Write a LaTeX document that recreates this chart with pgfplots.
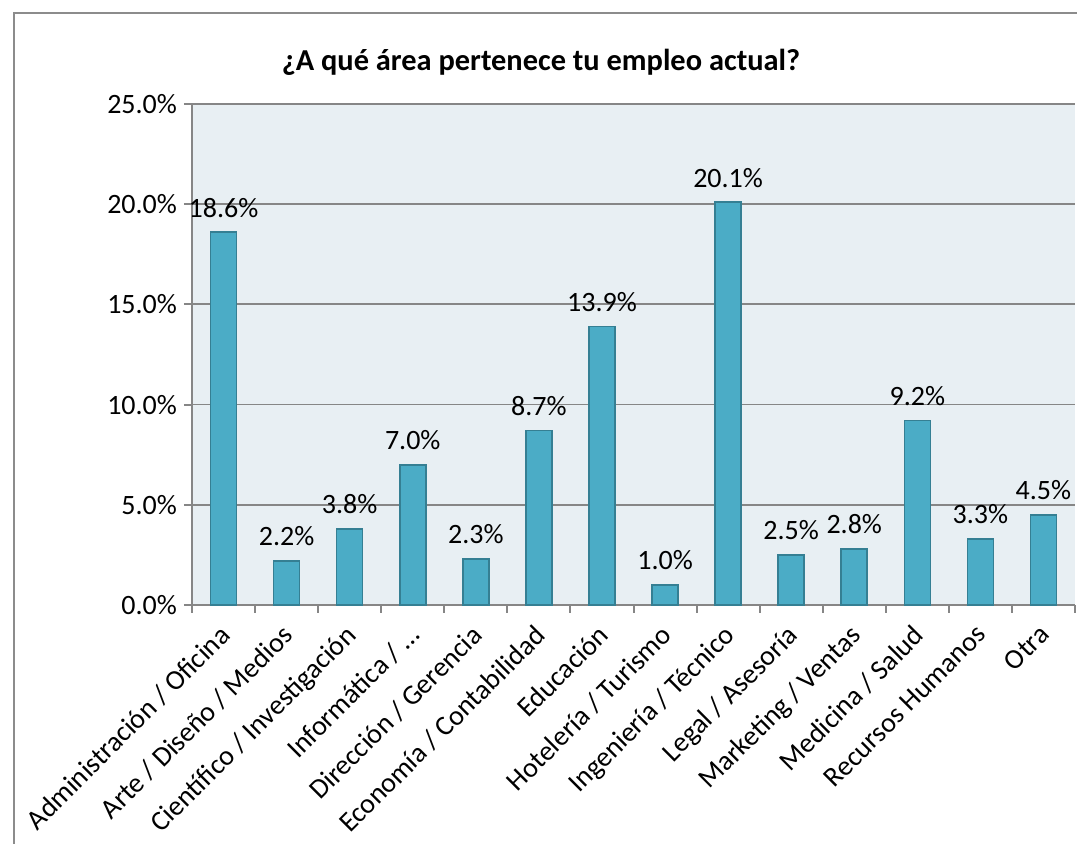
\documentclass[border=0pt]{standalone}
\usepackage{pgfplots}
\pgfplotsset{compat=1.18}
\usepackage{fontspec}
\setmainfont{Carlito}

\definecolor{barfill}{HTML}{4BACC6}
\definecolor{baredge}{HTML}{357F93}
\definecolor{plotbg}{HTML}{E8EFF3}
\definecolor{gridc}{HTML}{868686}
\definecolor{framec}{HTML}{8C8C8C}

\begin{document}
\begin{tikzpicture}[x=1pt,y=1pt]
% canvas: 1077 x 844 px at 0.5pt/px, origin at the plot's lower left corner
\path[use as bounding box] (-96,-119.5) rectangle (442.5,302.5);
\draw[framec, line width=1pt] (-89,-119.5) -- (-89,296) -- (442.5,296);
\node[font=\bfseries\fontsize{15.2}{18}\selectfont] at (174.5,271.5) {¿A qué área pertenece tu empleo actual?};
\begin{axis}[
    at={(0,0)}, anchor=south west,
    scale only axis,
    width=441.5pt, height=250.5pt,
    xmin=-0.5, xmax=13.5,
    ymin=0, ymax=25,
    ytick={0,5,...,25},
    yticklabel={\pgfmathprintnumber[fixed,fixed zerofill,precision=1]{\tick}\%},
    /pgf/number format/assume math mode=true,
    xtick={-0.5,0.5,...,13.5},
    x tick label as interval,
    xticklabels={Administración / Oficina, Arte / Diseño / Medios, Científico / Investigación, Informática / …, Dirección / Gerencia, Economía / Contabilidad, Educación, Hotelería / Turismo, Ingeniería / Técnico, Legal / Asesoría, Marketing / Ventas, Medicina / Salud, Recursos Humanos, Otra},
    xticklabel style={rotate=45, anchor=north east, inner sep=1pt, xshift=-4.5pt, yshift=-0.5pt},
    tick label style={font=\fontsize{14}{16}\selectfont, black},
    axis x line*=bottom, axis y line*=left,
    axis line style={gridc, line width=1pt},
    tick style={gridc, line width=1pt},
    tick align=outside,
    major tick length=4pt,
    ymajorgrids, grid style={gridc, line width=0.9pt},
    axis background/.style={fill=plotbg},
    ybar, bar width=13pt,
    nodes near coords={\pgfmathprintnumber[fixed,fixed zerofill,precision=1]{\pgfplotspointmeta}\%},
    nodes near coords style={font=\fontsize{14}{16}\selectfont, black, anchor=south, inner sep=0pt, yshift=7pt},
    clip=false,
]
\addplot[fill=barfill, draw=baredge, line width=0.8pt] coordinates {
(0,18.6) (1,2.2) (2,3.8) (3,7.0) (4,2.3) (5,8.7) (6,13.9)
(7,1.0) (8,20.1) (9,2.5) (10,2.8) (11,9.2) (12,3.3) (13,4.5)};
\end{axis}
\end{tikzpicture}
\end{document}
